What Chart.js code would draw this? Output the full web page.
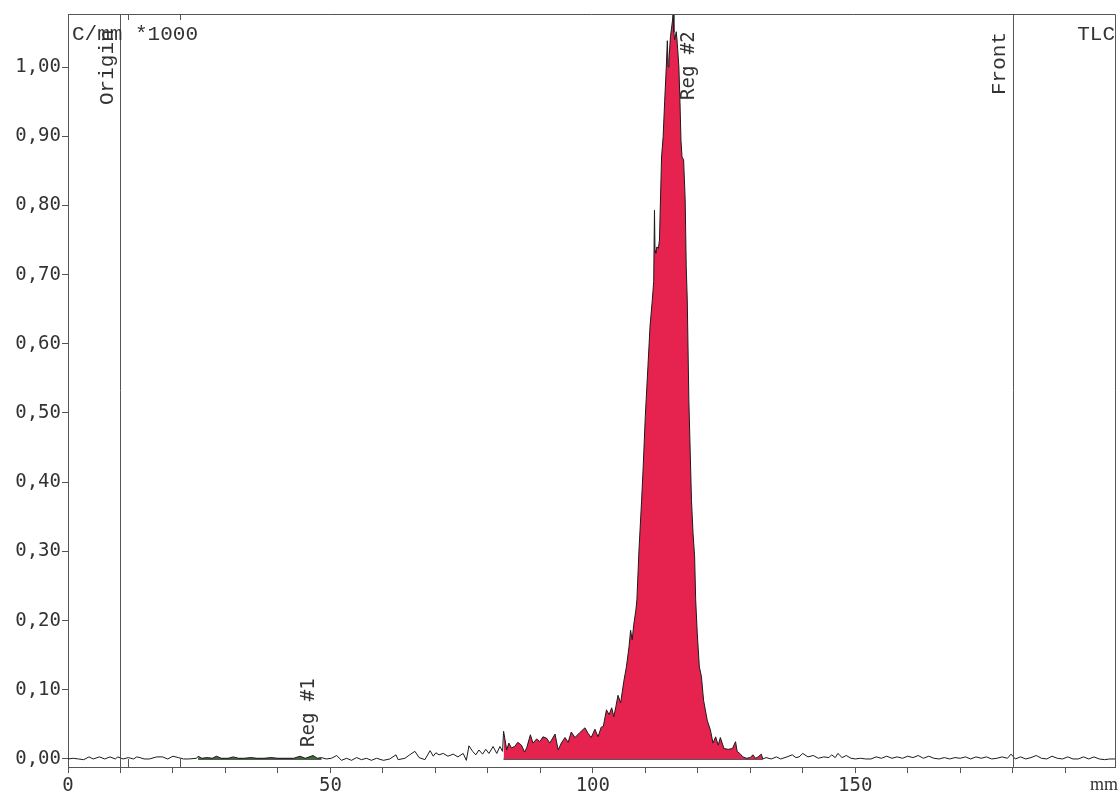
<!DOCTYPE html>
<html>
<head>
<meta charset="utf-8">
<script src="https://cdn.jsdelivr.net/npm/chart.js@4.4.1/dist/chart.umd.min.js"></script>
<style>
  html, body { margin: 0; padding: 0; background: #fff; }
  #wrap { width: 1119px; height: 794px; position: relative; }
</style>
</head>
<body>
<div id="wrap"><canvas id="tlc"></canvas></div>
<script>
// scan position along the plate (mm)
const positionMm = [
    0, 1, 2, 3, 4, 4.8, 6, 7, 8, 9,
    9.5, 10.5, 11.5, 12.5, 13.1, 13.7, 14.5, 15.5, 16.9, 18,
    19, 20, 21, 22, 23, 24.5, 24.8, 25.5, 26.5, 27.5,
    28.3, 29.2, 30.5, 31.5, 32.5, 33.5, 34.9, 36, 37.3, 38.7,
    40, 41.5, 43, 44.2, 45.2, 46.7, 47.5, 48.3, 49.2, 50.2,
    51.2, 52.1, 53.1, 54, 55, 55.9, 56.9, 57.8, 58.8, 60.1,
    61.3, 62.5, 62.9, 64.2, 65.1, 66.1, 66.9, 68, 69, 69.6,
    70.1, 70.7, 71.5, 72.4, 73.4, 74.3, 75.3, 75.9, 76.4, 77.1,
    77.7, 78.3, 79, 79.6, 80.2, 81, 81.7, 82.3, 82.8, 83,
    83.6, 84, 84.5, 85.1, 85.7, 86.4, 87, 87.4, 88.1, 88.6,
    89.3, 89.9, 90.5, 91.2, 91.8, 92.8, 93.4, 94, 94.7, 95.3,
    95.9, 96.6, 97.5, 98.5, 99.1, 99.7, 100.4, 101, 101.3, 101.6,
    102, 102.6, 103.1, 103.6, 104, 104.4, 104.8, 105.3, 105.9, 106.4,
    106.9, 107.2, 107.5, 107.8, 108.2, 108.4, 108.8, 109.3, 109.6, 110,
    110.5, 110.9, 111.3, 111.6, 111.75, 111.85, 112, 112.2, 112.5, 112.7,
    113.1, 113.4, 113.7, 114, 114.2, 114.35, 114.5, 114.8, 115.2, 115.3,
    115.45, 115.6, 115.9, 116.1, 116.4, 116.6, 116.8, 117, 117.3, 117.6,
    117.8, 118, 118.3, 118.8, 119.1, 119.4, 119.6, 119.9, 120.3, 120.7,
    121.1, 121.8, 122.4, 122.9, 123.4, 123.9, 124.3, 125, 125.8, 126.6,
    127.2, 127.5, 128, 128.6, 129.3, 130, 130.5, 131, 131.5, 132.1,
    132.4, 133, 134, 135, 135.8, 137, 138, 138.7, 139.3, 140,
    141, 142, 143, 144, 145, 145.5, 146.2, 146.7, 147.5, 148.3,
    149.2, 150, 151, 152, 153, 154, 155, 156, 157, 158,
    159, 160, 161, 162, 163, 164, 165, 166, 167, 168,
    169, 170, 171, 172, 173, 174, 175, 176, 177, 178,
    179, 179.7, 180.5, 181.5, 182.5, 183.5, 184.5, 185.5, 186.5, 187.5,
    188.5, 189.5, 190.5, 191.5, 192.5, 193.5, 194.5, 195.5, 196.5, 197.5,
    198.5, 199.5
];

// activity, C/mm *1000
const activity = [
    0.000, 0.001, 0.000, -0.001, 0.003, 0.000, 0.003, 0.000, 0.003, 0.000,
    0.003, 0.000, 0.002, 0.000, 0.003, 0.002, 0.000, 0.000, 0.003, 0.003,
    0.000, 0.004, 0.002, 0.000, 0.000, 0.001, 0.004, 0.001, 0.002, 0.001,
    0.004, 0.001, 0.001, 0.003, 0.001, 0.001, 0.002, 0.001, 0.001, 0.002,
    0.001, 0.001, 0.001, 0.004, 0.001, 0.005, 0.001, 0.002, 0.000, 0.001,
    0.005, -0.002, 0.001, -0.002, 0.002, -0.001, 0.001, -0.002, 0.001, -0.002,
    0.000, 0.006, -0.001, 0.001, 0.006, 0.011, 0.002, -0.001, 0.012, 0.004,
    0.009, 0.006, 0.008, 0.004, 0.007, 0.003, 0.008, -0.002, 0.019, 0.011,
    0.006, 0.013, 0.007, 0.014, 0.008, 0.018, 0.008, 0.018, 0.011, 0.040,
    0.013, 0.023, 0.016, 0.018, 0.024, 0.020, 0.010, 0.016, 0.035, 0.023,
    0.029, 0.025, 0.032, 0.030, 0.023, 0.036, 0.013, 0.023, 0.031, 0.024,
    0.039, 0.031, 0.038, 0.045, 0.037, 0.031, 0.043, 0.032, 0.039, 0.046,
    0.047, 0.071, 0.064, 0.074, 0.061, 0.076, 0.092, 0.081, 0.112, 0.133,
    0.162, 0.186, 0.172, 0.194, 0.215, 0.230, 0.302, 0.374, 0.422, 0.495,
    0.567, 0.625, 0.660, 0.690, 0.793, 0.735, 0.731, 0.740, 0.738, 0.750,
    0.870, 0.899, 0.952, 1.000, 1.038, 1.000, 1.010, 1.044, 1.068, 1.077,
    1.050, 1.039, 1.051, 1.034, 1.000, 0.952, 0.894, 0.870, 0.866, 0.808,
    0.711, 0.663, 0.519, 0.374, 0.326, 0.292, 0.230, 0.182, 0.133, 0.119,
    0.085, 0.056, 0.042, 0.023, 0.032, 0.020, 0.031, 0.015, 0.014, 0.015,
    0.025, 0.011, 0.008, 0.003, 0.001, 0.002, 0.006, 0.001, 0.003, 0.007,
    0.000, 0.002, 0.000, 0.003, 0.000, 0.003, 0.006, 0.002, 0.003, 0.008,
    0.003, 0.005, 0.001, 0.003, 0.002, 0.006, 0.002, 0.008, 0.002, 0.005,
    0.001, 0.000, 0.001, 0.000, 0.000, 0.003, 0.001, 0.004, 0.001, 0.003,
    0.001, 0.004, 0.002, 0.005, 0.001, 0.004, 0.001, 0.000, 0.002, 0.000,
    0.002, 0.001, 0.003, 0.000, 0.003, 0.001, 0.003, 0.000, 0.001, 0.003,
    0.001, 0.007, 0.000, 0.003, 0.000, 0.002, 0.005, 0.001, 0.000, 0.004,
    0.001, 0.000, 0.003, 0.000, 0.000, 0.003, 0.000, 0.003, 0.000, -0.001,
    0.000, 0.000
];

// integration regions
const regionLabels = ['Reg #1', 'Reg #2'];
const regionFrom = [24.8, 83.0];
const regionTo = [48.3, 132.4];
const regionColors = ['#3d6b34', '#e6234f'];

// origin / solvent front
const markerLabels = ['Origin', 'Front'];
const markerMm = [10, 180];

// small bracket near the origin
const bracketMm = [11.5, 21.4];

// axes
const xTicks = [0, 10, 20, 30, 40, 50, 60, 70, 80, 90, 100, 110, 120, 130, 140, 150, 160, 170, 180, 190];
const xTickLabels = { 0: '0', 50: '50', 100: '100', 150: '150' };
const yTicks = [0, 0.1, 0.2, 0.3, 0.4, 0.5, 0.6, 0.7, 0.8, 0.9, 1.0];
const yTickLabels = ['0,00', '0,10', '0,20', '0,30', '0,40', '0,50', '0,60', '0,70', '0,80', '0,90', '1,00'];

const trace = positionMm.map((x, i) => ({ x: x, y: activity[i] }));

const regionSets = [];
regionLabels.forEach((name, r) => {
    const pts = trace.filter(p => p.x >= regionFrom[r] && p.x <= regionTo[r]);
    regionSets.push({
        label: name,
        data: [{ x: regionFrom[r], y: 0 }, ...pts, { x: regionTo[r], y: 0 }],
        borderWidth: 0,
        backgroundColor: regionColors[r],
        fill: 'origin',
        pointRadius: 0,
        tension: 0
    });
    regionSets.push({
        label: name + ' base',
        data: [{ x: regionFrom[r], y: 0 }, { x: regionTo[r], y: 0 }],
        borderColor: '#222',
        borderWidth: 1.4,
        fill: false,
        pointRadius: 0
    });
});

const axisColor = '#555';
const textColor = '#333';
const tickFont = { family: 'DejaVu Sans Mono', size: 19 };

const decor = {
    id: 'decor',
    afterDraw(chart) {
        const ctx = chart.ctx;
        const a = chart.chartArea;
        const xs = chart.scales.x;
        const ys = chart.scales.y;
        ctx.save();
        ctx.strokeStyle = axisColor;
        ctx.lineWidth = 1;

        // top and right frame
        ctx.beginPath();
        ctx.moveTo(a.left, a.top + 0.5);
        ctx.lineTo(a.right + 0.5, a.top + 0.5);
        ctx.lineTo(a.right + 0.5, a.bottom);
        ctx.stroke();

        // origin and front lines
        markerMm.forEach(m => {
            const px = Math.round(xs.getPixelForValue(m)) + 0.5;
            ctx.beginPath();
            ctx.moveTo(px, a.top);
            ctx.lineTo(px, a.bottom);
            ctx.stroke();
        });

        // bracket
        const y0 = ys.getPixelForValue(0);
        bracketMm.forEach(m => {
            const px = Math.round(xs.getPixelForValue(m)) + 0.5;
            ctx.beginPath();
            ctx.moveTo(px, a.top);
            ctx.lineTo(px, a.top + 6);
            ctx.moveTo(px, y0);
            ctx.lineTo(px, a.bottom);
            ctx.stroke();
        });

        ctx.fillStyle = textColor;
        const vtext = (txt, bx, by, font) => {
            ctx.save();
            ctx.font = font;
            ctx.translate(bx, by);
            ctx.rotate(-Math.PI / 2);
            ctx.textAlign = 'left';
            ctx.textBaseline = 'alphabetic';
            ctx.fillText(txt, 0, 0);
            ctx.restore();
        };

        const monoSerif = '21px "Liberation Mono"';
        vtext(markerLabels[0], xs.getPixelForValue(markerMm[0]) - 7, 105, monoSerif);
        vtext(markerLabels[1], xs.getPixelForValue(markerMm[1]) - 8, 95, monoSerif);

        const regFont = '19px "DejaVu Sans Mono"';
        vtext(regionLabels[0], xs.getPixelForValue(46.8), 747, regFont);
        vtext(regionLabels[1], xs.getPixelForValue(119.3), 100, regFont);

        ctx.font = monoSerif;
        ctx.textBaseline = 'alphabetic';
        ctx.textAlign = 'left';
        ctx.fillText('C/mm *1000', a.left + 4, 40);
        ctx.textAlign = 'right';
        ctx.fillText('TLC', a.right, 40);

        ctx.font = '18px "Liberation Serif"';
        ctx.fillText('mm', chart.width - 1, 790);
        ctx.restore();
    }
};

new Chart(document.getElementById('tlc'), {
    type: 'line',
    data: {
        datasets: [
            {
                label: 'trace',
                data: trace,
                borderColor: '#1b1b1b',
                borderWidth: 1,
                fill: false,
                pointRadius: 0,
                tension: 0
            },
            ...regionSets
        ]
    },
    options: {
        responsive: true,
        maintainAspectRatio: false,
        animation: false,
        events: [],
        layout: { padding: { top: 14, right: 4, left: 0, bottom: 0 } },
        plugins: {
            legend: { display: false },
            tooltip: { enabled: false }
        },
        scales: {
            x: {
                type: 'linear',
                min: 0,
                max: 199.5,
                afterBuildTicks: s => { s.ticks = xTicks.map(v => ({ value: v })); },
                afterFit: s => { s.height = 27; s.paddingLeft = 0; s.paddingRight = 0; },
                ticks: {
                    autoSkip: false,
                    maxRotation: 0,
                    padding: 2,
                    color: textColor,
                    font: tickFont,
                    callback: v => xTickLabels[v] || ''
                },
                grid: { display: true, drawOnChartArea: false, drawTicks: true, tickLength: 6, color: axisColor },
                border: { display: true, color: axisColor, width: 1 }
            },
            y: {
                min: -0.0116,
                max: 1.0766,
                afterBuildTicks: s => { s.ticks = yTicks.map(v => ({ value: v })); },
                afterFit: s => { s.width = 68; s.paddingTop = 0; s.paddingBottom = 0; },
                ticks: {
                    padding: 1,
                    color: textColor,
                    font: tickFont,
                    callback: v => yTickLabels[yTicks.indexOf(v)]
                },
                grid: { display: true, drawOnChartArea: false, drawTicks: true, tickLength: 6, color: axisColor },
                border: { display: true, color: axisColor, width: 1 }
            }
        }
    },
    plugins: [decor]
});
</script>
</body>
</html>
